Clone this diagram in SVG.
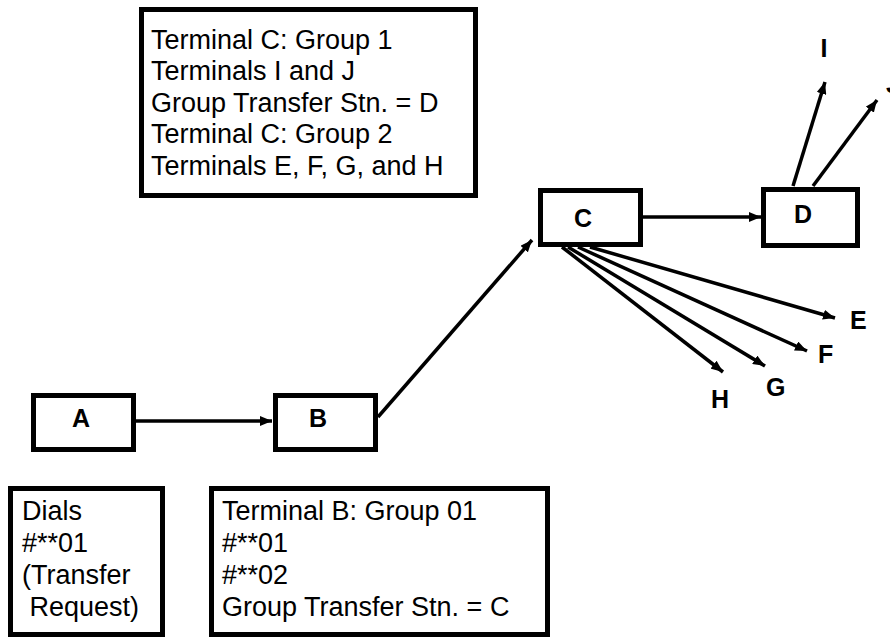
<svg xmlns="http://www.w3.org/2000/svg" width="890" height="642" viewBox="0 0 890 642">
<defs>
<style>
.box{fill:#fff;stroke:#000;stroke-width:5}
.txt{font-family:"Liberation Sans",Arial,sans-serif;font-size:27px;fill:#000;white-space:pre}
.lbl{font-family:"Liberation Sans",Arial,sans-serif;font-size:25px;font-weight:bold;fill:#000}
.ln{stroke:#000;stroke-width:3.5;fill:none}
</style>
<marker id="ah" viewBox="0 0 12 10" refX="12" refY="5" markerWidth="12" markerHeight="10" markerUnits="userSpaceOnUse" orient="auto">
<path d="M0,0 L12,5 L0,10 Z" fill="#000"/>
</marker>
</defs>
<rect width="890" height="642" fill="#fff"/>
<g id="connectors">
<line class="ln" x1="136" y1="421" x2="272" y2="421" marker-end="url(#ah)"/>
<line class="ln" x1="378" y1="417" x2="532" y2="240" marker-end="url(#ah)"/>
<line class="ln" x1="643" y1="217" x2="761" y2="217" marker-end="url(#ah)"/>
<line class="ln" x1="793" y1="186" x2="825" y2="82" marker-end="url(#ah)"/>
<line class="ln" x1="813" y1="186" x2="877" y2="100" marker-end="url(#ah)"/>
<line class="ln" x1="590" y1="247" x2="835" y2="318" marker-end="url(#ah)"/>
<line class="ln" x1="578" y1="247" x2="807" y2="351" marker-end="url(#ah)"/>
<line class="ln" x1="568" y1="247" x2="765" y2="366" marker-end="url(#ah)"/>
<line class="ln" x1="562" y1="247" x2="723" y2="372" marker-end="url(#ah)"/>
</g>
<g id="note-top">
<rect class="box" x="141.5" y="9.5" width="334" height="186"/>
<text class="txt" x="151" y="48.5">Terminal C: Group 1</text>
<text class="txt" x="151" y="80">Terminals I and J</text>
<text class="txt" x="151" y="111.5">Group Transfer Stn. = D</text>
<text class="txt" x="151" y="143">Terminal C: Group 2</text>
<text class="txt" x="151" y="174.5">Terminals E, F, G, and H</text>
</g>
<g id="node-A">
<rect class="box" x="33.5" y="395.5" width="100" height="54"/>
<text class="lbl" x="81" y="427" text-anchor="middle">A</text>
</g>
<g id="node-B">
<rect class="box" x="275.5" y="395.5" width="100" height="54"/>
<text class="lbl" x="318" y="427" text-anchor="middle">B</text>
</g>
<g id="node-C">
<rect class="box" x="540.5" y="190.5" width="100" height="54"/>
<text class="lbl" x="583" y="227" text-anchor="middle">C</text>
</g>
<g id="node-D">
<rect class="box" x="763.5" y="189.5" width="94" height="56"/>
<text class="lbl" x="803" y="223" text-anchor="middle">D</text>
</g>
<g id="term-I"><text class="lbl" x="824" y="57" text-anchor="middle">I</text></g>
<g id="term-J"><text class="lbl" x="886" y="93">J</text></g>
<g id="term-E"><text class="lbl" x="850" y="329">E</text></g>
<g id="term-F"><text class="lbl" x="818" y="363">F</text></g>
<g id="term-G"><text class="lbl" x="766" y="396">G</text></g>
<g id="term-H"><text class="lbl" x="711" y="408">H</text></g>
<g id="note-dials">
<rect class="box" x="10.5" y="488.5" width="152" height="146"/>
<text class="txt" x="22" y="520">Dials</text>
<text class="txt" x="22" y="552">#**01</text>
<text class="txt" x="22" y="584">(Transfer</text>
<text class="txt" x="22" y="616"> Request)</text>
</g>
<g id="note-B">
<rect class="box" x="211.5" y="488.5" width="336" height="146"/>
<text class="txt" x="222" y="520">Terminal B: Group 01</text>
<text class="txt" x="222" y="552">#**01</text>
<text class="txt" x="222" y="584">#**02</text>
<text class="txt" x="222" y="616">Group Transfer Stn. = C</text>
</g>
</svg>
